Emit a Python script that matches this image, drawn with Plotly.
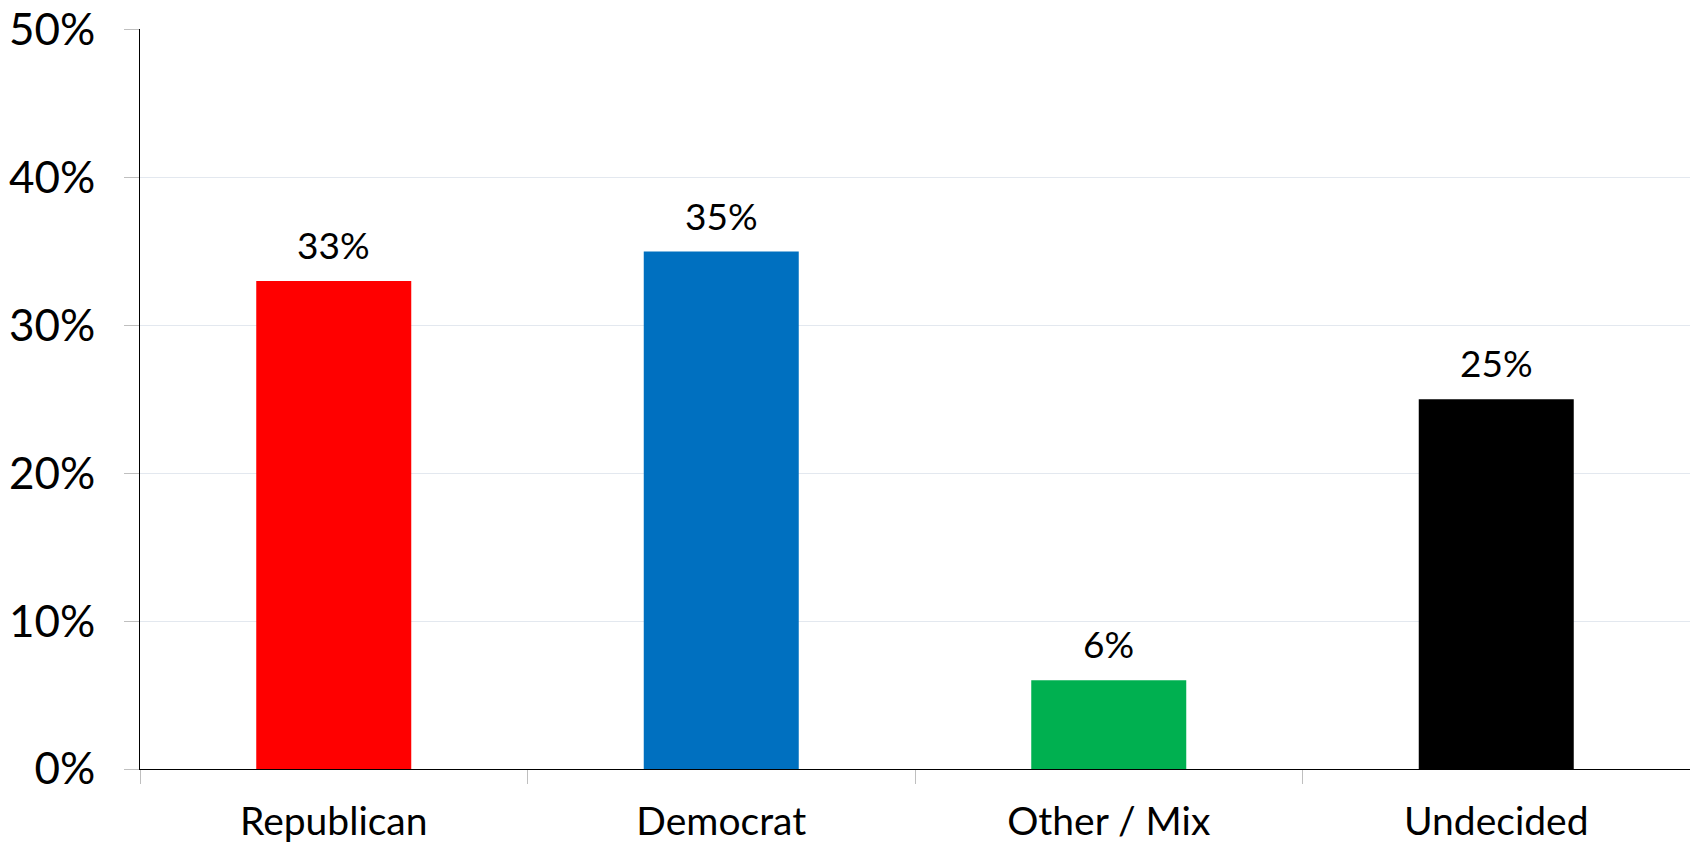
import plotly.graph_objects as go

categories = ["Republican", "Democrat", "Other / Mix", "Undecided"]
shares = [0.33, 0.35, 0.06, 0.25]
labels = ["33%", "35%", "6%", "25%"]
colors = ["#FF0000", "#0070C0", "#00B050", "#000000"]

fig = go.Figure(
    go.Bar(
        x=categories,
        y=shares,
        marker=dict(color=colors, line=dict(width=0)),
        width=0.4,
    )
)

# value labels above each bar
for cat, val, lab in zip(categories, shares, labels):
    fig.add_annotation(
        x=cat, y=val, text=lab,
        showarrow=False, yanchor="bottom", yshift=12,
        font=dict(size=37, color="black"),
    )

fig.update_layout(
    width=1690,
    height=845,
    margin=dict(l=140, r=0, t=29, b=76),
    paper_bgcolor="white",
    plot_bgcolor="white",
    font=dict(family="Lato, Carlito, sans-serif", color="black"),
    showlegend=False,
)

fig.update_yaxes(
    range=[0, 0.5005],
    tickvals=[0, 0.1, 0.2, 0.3, 0.4, 0.5],
    tickformat=".0%",
    tickfont=dict(size=44),
    showgrid=True,
    gridcolor="#E3E8EF",
    gridwidth=1,
    showline=True,
    linecolor="black",
    linewidth=1,
    ticks="outside",
    ticklen=15,
    tickcolor="#BFBFBF",
    ticklabelstandoff=20,
    zeroline=False,
    automargin=False,
)

fig.update_xaxes(
    tickfont=dict(size=39),
    showline=True,
    linecolor="black",
    linewidth=1,
    ticks="outside",
    tickson="boundaries",
    ticklen=14,
    tickcolor="#BFBFBF",
    ticklabelstandoff=18,
    showgrid=False,
    automargin=False,
)

# drop the default page margin so the figure fills the window exactly
fig.write_html(
    "out.html",
    config={"displayModeBar": False},
    post_script="document.body.style.margin='0';document.body.style.overflow='hidden';",
)
